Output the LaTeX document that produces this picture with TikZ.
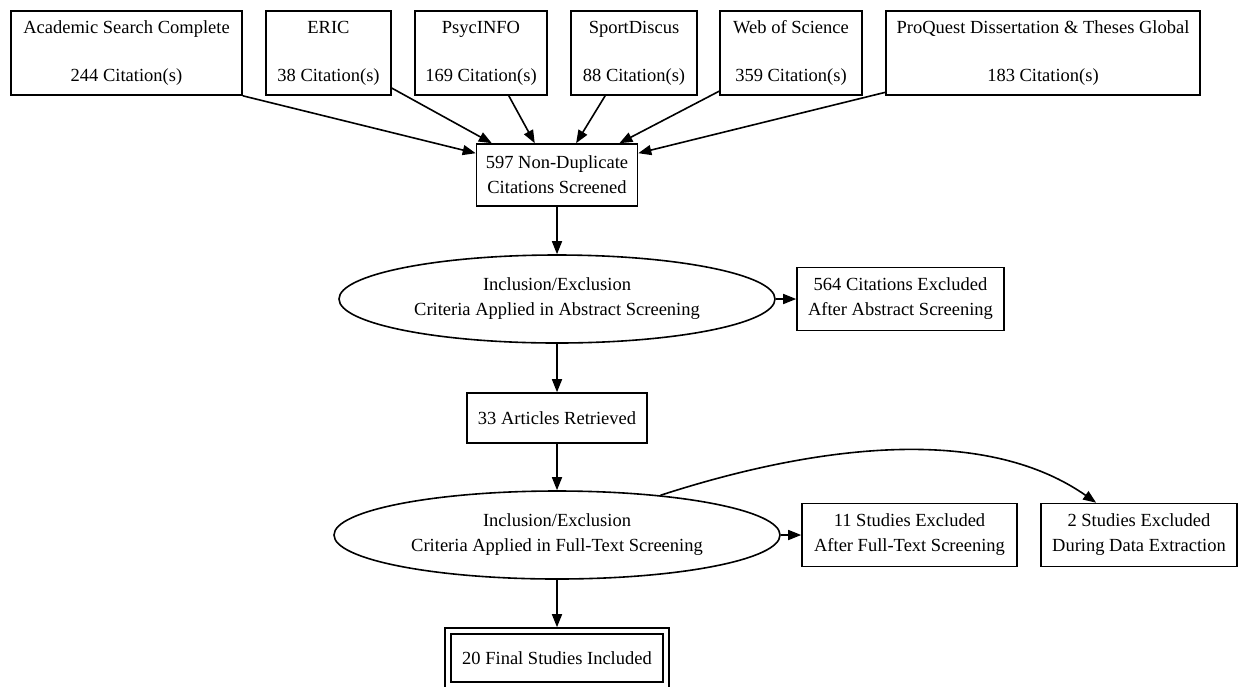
\documentclass[tikz,border=0pt]{standalone}
\usepackage{fontspec}
\setmainfont{Liberation Serif}
\usetikzlibrary{shapes.geometric,arrows.meta}

\begin{document}
\begin{tikzpicture}[x=1pt, y=-1pt, line width=1.6pt,
    >={Triangle[length=13pt,width=10pt]},
    every node/.style={font=\fontsize{18.5}{25}\selectfont, align=center, inner sep=0pt},
    srcbox/.style={draw, rectangle, minimum height=84pt},
    box/.style={draw, rectangle, minimum height=63pt},
    oval/.style={draw, ellipse, minimum height=88pt}]
    \useasboundingbox (0,0) rectangle (1238,686);
    % databases
    \node[srcbox, minimum width=231pt] (acad)  at (126.5,53) {Academic Search Complete\\[23pt]244 Citation(s)};
    \node[srcbox, minimum width=125pt] (eric)  at (328.5,53) {ERIC\\[23pt]38 Citation(s)};
    \node[srcbox, minimum width=132pt] (psyc)  at (481,53)   {PsycINFO\\[23pt]169 Citation(s)};
    \node[srcbox, minimum width=126pt] (sport) at (634,53)   {SportDiscus\\[23pt]88 Citation(s)};
    \node[srcbox, minimum width=142pt] (wos)   at (791,53)   {Web of Science\\[23pt]359 Citation(s)};
    \node[srcbox, minimum width=314pt] (pq)    at (1043,53)  {ProQuest Dissertation \& Theses Global\\[23pt]183 Citation(s)};
    % screening
    \node[box, minimum width=161pt, minimum height=62pt] (nondup) at (557,175) {597 Non-Duplicate\\Citations Screened};
    \node[oval, minimum width=436pt] (abstr) at (557,299) {Inclusion/Exclusion\\Criteria Applied in Abstract Screening};
    \node[box, minimum width=207pt] (exabs) at (900.5,299) {564 Citations Excluded\\After Abstract Screening};
    \node[box, minimum width=180pt, minimum height=50pt] (retr) at (557,418) {33 Articles Retrieved};
    \node[oval, minimum width=446pt] (full) at (557,535) {Inclusion/Exclusion\\Criteria Applied in Full-Text Screening};
    \node[box, minimum width=215pt] (exfull) at (909.5,535) {11 Studies Excluded\\After Full-Text Screening};
    \node[box, minimum width=196pt] (exdata) at (1139,535) {2 Studies Excluded\\During Data Extraction};
    \node[draw, double, double distance=4.4pt, minimum width=218pt, minimum height=54pt] (final) at (557,658) {20 Final Studies Included};
    % edges
    \draw[->] (acad.south east) -- (nondup.165);
    \draw[->] (eric.-29) -- (nondup.154);
    \draw[->] (psyc.-57) -- (nondup.125);
    \draw[->] (sport.-124) -- (nondup.59);
    \draw[->] (wos.-152) -- (nondup.27);
    \draw[->] (pq.-166) -- (nondup.15);
    \draw[->] (nondup) -- (abstr);
    \draw[->] (abstr) -- (exabs);
    \draw[->] (abstr) -- (retr);
    \draw[->] (retr) -- (full);
    \draw[->] (full) -- (exfull);
    \draw[->] (full.21) to[out=18, in=145, looseness=0.85] (exdata.143);
    \draw[->, shorten >=3pt] (full) -- (final);
\end{tikzpicture}
\end{document}
